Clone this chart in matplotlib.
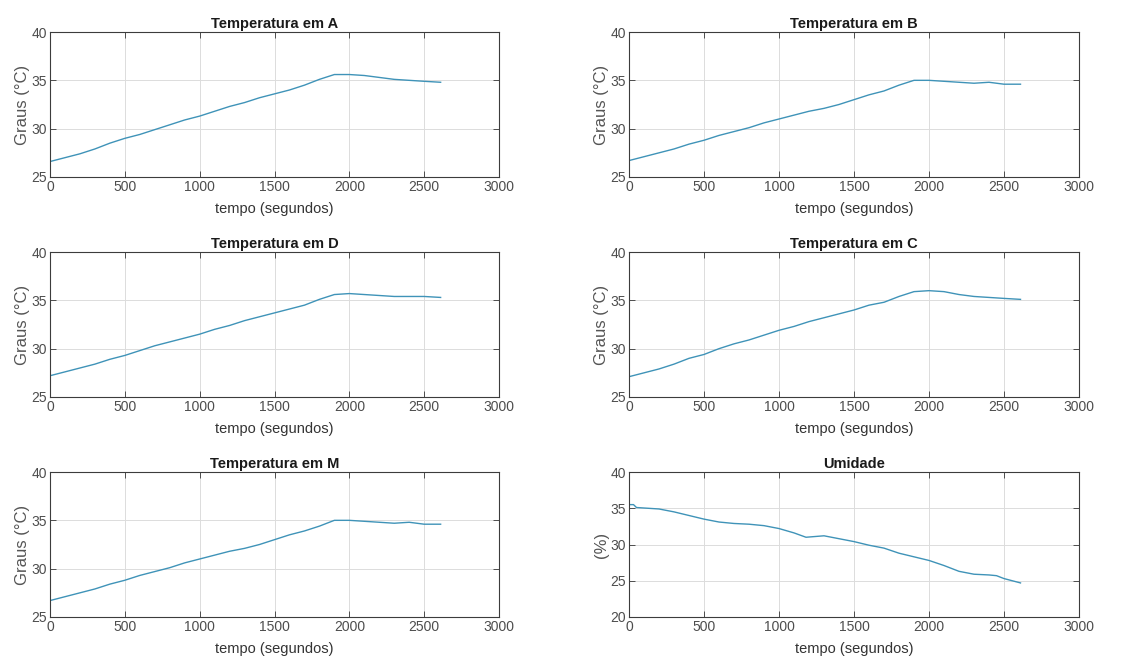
import matplotlib
matplotlib.use("Agg")
import matplotlib.pyplot as plt

plt.rcParams['font.family'] = ['Liberation Sans', 'DejaVu Sans']

t = [0, 100, 200, 300, 400, 500, 600, 700, 800, 900, 1000, 1100, 1200, 1300,
     1400, 1500, 1600, 1700, 1800, 1900, 2000, 2100, 2200, 2300, 2400, 2500, 2610]

temp_A = [26.6, 27.0, 27.4, 27.9, 28.5, 29.0, 29.4, 29.9, 30.4, 30.9, 31.3, 31.8, 32.3, 32.7,
          33.2, 33.6, 34.0, 34.5, 35.1, 35.6, 35.6, 35.5, 35.3, 35.1, 35.0, 34.9, 34.8]
temp_B = [26.7, 27.1, 27.5, 27.9, 28.4, 28.8, 29.3, 29.7, 30.1, 30.6, 31.0, 31.4, 31.8, 32.1,
          32.5, 33.0, 33.5, 33.9, 34.5, 35.0, 35.0, 34.9, 34.8, 34.7, 34.8, 34.6, 34.6]
temp_D = [27.2, 27.6, 28.0, 28.4, 28.9, 29.3, 29.8, 30.3, 30.7, 31.1, 31.5, 32.0, 32.4, 32.9,
          33.3, 33.7, 34.1, 34.5, 35.1, 35.6, 35.7, 35.6, 35.5, 35.4, 35.4, 35.4, 35.3]
temp_C = [27.1, 27.5, 27.9, 28.4, 29.0, 29.4, 30.0, 30.5, 30.9, 31.4, 31.9, 32.3, 32.8, 33.2,
          33.6, 34.0, 34.5, 34.8, 35.4, 35.9, 36.0, 35.9, 35.6, 35.4, 35.3, 35.2, 35.1]
temp_M = [26.7, 27.1, 27.5, 27.9, 28.4, 28.8, 29.3, 29.7, 30.1, 30.6, 31.0, 31.4, 31.8, 32.1,
          32.5, 33.0, 33.5, 33.9, 34.4, 35.0, 35.0, 34.9, 34.8, 34.7, 34.8, 34.6, 34.6]

t_u = [0, 30, 50, 200, 300, 400, 500, 600, 700, 800, 900, 1000, 1100, 1180, 1300, 1400,
       1500, 1600, 1700, 1800, 1900, 2000, 2100, 2200, 2300, 2400, 2450, 2500, 2610]
umidade = [35.5, 35.5, 35.1, 34.9, 34.5, 34.0, 33.5, 33.1, 32.9, 32.8, 32.6, 32.2, 31.6, 31.0,
           31.2, 30.8, 30.4, 29.9, 29.5, 28.8, 28.3, 27.8, 27.1, 26.3, 25.9, 25.8, 25.7, 25.3, 24.7]

titles = ['Temperatura em A', 'Temperatura em B', 'Temperatura em D',
          'Temperatura em C', 'Temperatura em M', 'Umidade']
series = [(t, temp_A), (t, temp_B), (t, temp_D), (t, temp_C), (t, temp_M), (t_u, umidade)]
ylabels = ['Graus (°C)'] * 5 + ['(%)']
ylims = [(25, 40)] * 5 + [(20, 40)]
xticks = [0, 500, 1000, 1500, 2000, 2500, 3000]

W, H = 1129, 661
fig = plt.figure(figsize=(W / 100, H / 100), dpi=100)
lefts = [50, 629]
widths = [449, 450]
tops = [32, 252, 472]
ah = 145

line_color = '#3f93b8'
tick_color = '#4d4d4d'
for i in range(6):
    r, c = divmod(i, 2)
    ax = fig.add_axes([lefts[c] / W, 1 - (tops[r] + ah) / H, widths[c] / W, ah / H])
    x, y = series[i]
    ax.plot(x, y, color=line_color, lw=1.0)
    ax.set_xlim(0, 3000)
    ax.set_ylim(*ylims[i])
    ax.set_xticks(xticks)
    lo, hi = ylims[i]
    ax.set_yticks(list(range(lo, hi + 1, 5)))
    ax.grid(True, color='#dcdcdc', lw=0.7)
    ax.set_axisbelow(True)
    ax.tick_params(direction='in', top=True, right=True, length=4, width=0.7,
                   colors=tick_color, labelsize=10, pad=2)
    for s in ax.spines.values():
        s.set_color('#3c3c3c')
        s.set_linewidth(0.8)
    ax.set_title(titles[i], fontsize=10.5, fontweight='bold', color='#1a1a1a', pad=3)
    ax.set_xlabel('tempo (segundos)', fontsize=10.5, color='#333333', labelpad=6)
    ax.set_ylabel(ylabels[i], fontsize=12, color='#555555', labelpad=1)

fig.savefig('out.png', dpi=100, facecolor='white')
